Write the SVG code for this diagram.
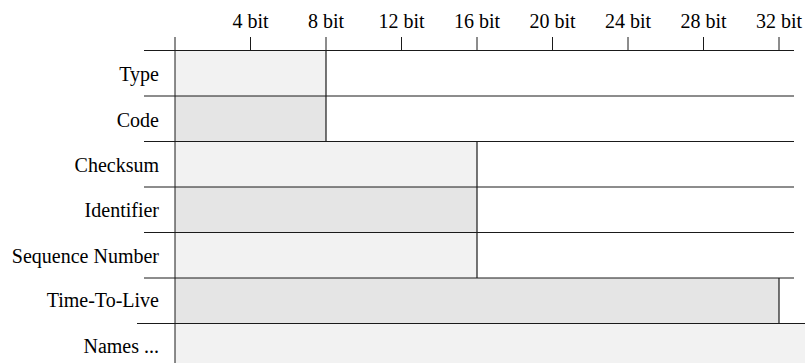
<svg xmlns="http://www.w3.org/2000/svg" width="805" height="363" viewBox="0 0 805 363">
  <style>
    .lbl { font-family: "Liberation Serif", "Times New Roman", serif; font-size: 20px; fill: #000; }
    .row { text-anchor: end; }
    .bit { text-anchor: middle; }
    .rule { stroke: #1a1a1a; stroke-width: 1; fill: none; }
    .light { fill: #f2f2f2; }
    .dark { fill: #e5e5e5; }
    .edge { stroke: #1a1a1a; stroke-width: 1.2; fill: none; }
  </style>

  <!-- bit ruler along the top -->
  <g id="ruler">
    <text class="lbl bit" x="250.5" y="28">4 bit</text>
    <text class="lbl bit" x="326" y="28">8 bit</text>
    <text class="lbl bit" x="401.5" y="28">12 bit</text>
    <text class="lbl bit" x="477" y="28">16 bit</text>
    <text class="lbl bit" x="552.5" y="28">20 bit</text>
    <text class="lbl bit" x="628" y="28">24 bit</text>
    <text class="lbl bit" x="703.5" y="28">28 bit</text>
    <text class="lbl bit" x="779" y="28">32 bit</text>
    <path class="rule" d="M250.5 37V50.5M326 37V50.5M401.5 37V50.5M477 37V50.5M552.5 37V50.5M628 37V50.5M703.5 37V50.5M779 37V50.5"/>
  </g>

  <!-- field rows -->
  <g id="type">
    <rect class="light" x="175" y="50.5" width="151" height="45.5"/>
    <path class="edge" d="M326 50.5V96"/>
    <text class="lbl row" x="159" y="81">Type</text>
  </g>
  <g id="code">
    <rect class="dark" x="175" y="96" width="151" height="45.5"/>
    <path class="edge" d="M326 96V141.5"/>
    <text class="lbl row" x="159" y="126.5">Code</text>
  </g>
  <g id="checksum">
    <rect class="light" x="175" y="141.5" width="302" height="45.5"/>
    <path class="edge" d="M477 141.5V187"/>
    <text class="lbl row" x="159" y="172">Checksum</text>
  </g>
  <g id="identifier">
    <rect class="dark" x="175" y="187" width="302" height="45.5"/>
    <path class="edge" d="M477 187V232.5"/>
    <text class="lbl row" x="159" y="217">Identifier</text>
  </g>
  <g id="sequence-number">
    <rect class="light" x="175" y="232.5" width="302" height="45.5"/>
    <path class="edge" d="M477 232.5V278"/>
    <text class="lbl row" x="159" y="263">Sequence Number</text>
  </g>
  <g id="time-to-live">
    <rect class="dark" x="175" y="278" width="604" height="45.5"/>
    <path class="edge" d="M779 278V323.5"/>
    <text class="lbl row" x="159" y="306.5">Time-To-Live</text>
  </g>
  <g id="names">
    <rect class="light" x="175" y="323.5" width="630" height="40"/>
    <text class="lbl row" x="159" y="353">Names ...</text>
  </g>

  <!-- row separators and vertical axis -->
  <g id="connectors">
    <path class="rule" d="M144 50.5H794M144 96H794M144 141.5H794M144 187H794M144 232.5H794M144 278H794M137 323.5H805"/>
    <path class="rule" d="M175 37V363"/>
  </g>
</svg>
